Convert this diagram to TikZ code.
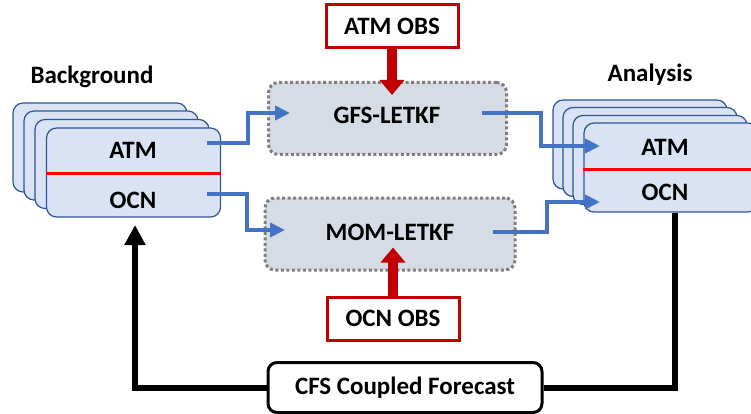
\documentclass[tikz,border=0pt]{standalone}
\usepackage{fontspec}
\setmainfont{Carlito}
\usetikzlibrary{arrows.meta,calc}
\definecolor{boxblue}{HTML}{DAE3F3}
\definecolor{edgeblue}{HTML}{2F5597}
\definecolor{lineblue}{HTML}{4472C4}
\definecolor{letkffill}{HTML}{D6DCE5}
\definecolor{obsred}{HTML}{C00000}
\definecolor{dotgray}{HTML}{7F7F7F}
\begin{document}
\begin{tikzpicture}[x=1pt,y=-1pt,
  font=\bfseries\fontsize{25}{28}\selectfont,
  stackbox/.style={draw=edgeblue, fill=boxblue, line width=1.2pt, rounded corners=10pt,
    minimum width=174pt, minimum height=89pt, inner sep=0pt},
  letkf/.style={draw=dotgray, fill=letkffill, line width=3pt, dash pattern=on 3pt off 2.5pt,
    rounded corners=10pt, minimum width=238pt, minimum height=72pt, inner sep=0pt},
  obs/.style={draw=obsred, fill=white, line width=3pt, minimum width=132pt,
    minimum height=43pt, inner sep=0pt},
  cfsbox/.style={draw=black, fill=white, line width=3pt, rounded corners=9pt,
    minimum width=274pt, minimum height=50pt, inner sep=0pt},
  lbl/.style={inner sep=0pt},
  barrow/.style={lineblue, line width=4pt, -{Triangle[length=15pt,width=14pt]}},
  rarrow/.style={obsred, line width=10pt, -{Triangle[length=15pt,width=24pt]}},
  karrow/.style={black, line width=6pt, line join=miter, -{Triangle[length=20pt,width=20pt]}},
  kline/.style={black, line width=6pt, line join=miter},
  redline/.style={red, line width=3pt}
]
\useasboundingbox (0,0) rectangle (751,414);

% Background stack
\node[stackbox] (bg0) at (100,147.5) {};
\node[stackbox] (bg1) at (111,155.5) {};
\node[stackbox] (bg2) at (122,164) {};
\node[stackbox] (bgF) at (133.5,172.5) {};
\draw[redline] (bgF.west |- 0,173) -- (bgF.east |- 0,173);
\node[lbl] (bgatm) at (133,150) {ATM};
\node[lbl] (bgocn) at (133,200) {OCN};
\node[lbl] (bglab) at (92,77) {Background};

% Analysis stack
\node[stackbox] (an0) at (640,144.5) {};
\node[stackbox] (an1) at (650,152) {};
\node[stackbox] (an2) at (660,160) {};
\node[stackbox] (anF) at (671,167.5) {};
\draw[redline] (anF.west |- 0,169) -- (anF.east |- 0,169);
\node[lbl] (anatm) at (665,147) {ATM};
\node[lbl] (anocn) at (665,192) {OCN};
\node[lbl] (anlab) at (650,75) {Analysis};

% LETKF boxes
\node[letkf] (gfs) at (387.5,118.5) {};
\node[lbl] at (387,115) {GFS-LETKF};
\node[letkf, minimum width=250pt] (mom) at (390,234) {};
\node[lbl] at (390,232) {MOM-LETKF};

% OBS boxes
\node[obs] (atmobs) at (392,26) {ATM OBS};
\node[obs] (ocnobs) at (393,318.5) {OCN OBS};

% CFS box
\node[cfsbox] (cfs) at (405,387.5) {CFS Coupled Forecast};

% blue connectors
\coordinate (bA) at (207,143);
\coordinate (gIn) at (290,113);
\coordinate (gOut) at (482,113);
\coordinate (aAin) at (600,146);
\coordinate (bO) at (207,194);
\coordinate (mIn) at (285,230);
\coordinate (mOut) at (493,232);
\coordinate (aOin) at (600,202);
\draw[barrow] (bA) -- (248,143) |- (gIn);
\draw[barrow] (gOut) -- (541,113) |- (aAin);
\draw[barrow] (bO) -- (247,194) |- (mIn);
\draw[barrow] (mOut) -- (547,232) |- (aOin);

% red arrows
\draw[rarrow] (atmobs.south) -- ++(0,46);
\draw[rarrow] (ocnobs.north) -- ++(0,-48);

% black loop
\coordinate (bgIn) at (135,225);
\coordinate (anOut) at (675,213);
\draw[karrow] (cfs.west) -| (bgIn);
\draw[kline] (anOut) |- (cfs.east);
\end{tikzpicture}
\end{document}
